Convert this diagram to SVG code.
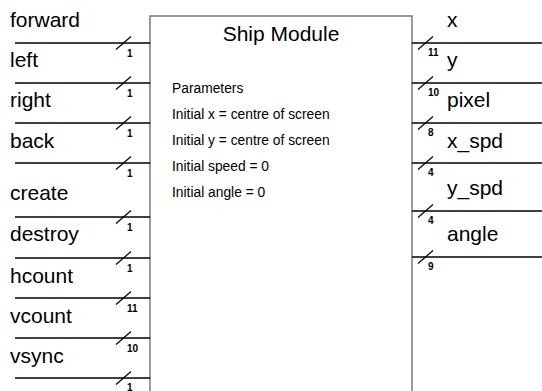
<svg xmlns="http://www.w3.org/2000/svg" width="542" height="391" viewBox="0 0 542 391">
<style>
  text { font-family: "Liberation Sans", Arial, sans-serif; fill: #000; }
  .lbl { font-size: 21px; }
  .title { font-size: 21px; text-anchor: middle; }
  .param { font-size: 13.8px; }
  .num { font-size: 10px; font-weight: bold; }
  .wire { stroke: #000; stroke-width: 1.5; fill: none; }
  .slash { stroke: #000; stroke-width: 1.2; fill: none; }
  .box { fill: #fff; stroke: #7a7a7a; stroke-width: 1.5; }
</style>
<defs>
  <path id="sl" class="slash" d="M-7.5,6.5 L7.5,-6.5"/>
</defs>
<rect width="542" height="391" fill="#fff"/>

<g id="ship-module">
  <rect class="box" x="150" y="16" width="262" height="400"/>
  <text class="title" x="281" y="41">Ship Module</text>
  <text class="param" x="172" y="93">Parameters</text>
  <text class="param" x="172" y="119">Initial x = centre of screen</text>
  <text class="param" x="172" y="145">Initial y = centre of screen</text>
  <text class="param" x="172" y="171">Initial speed = 0</text>
  <text class="param" x="172" y="197">Initial angle = 0</text>
</g>

<g id="connectors">
  <line class="wire" x1="15" y1="43" x2="150" y2="43"/>
  <line class="wire" x1="15" y1="83" x2="150" y2="83"/>
  <line class="wire" x1="15" y1="123" x2="150" y2="123"/>
  <line class="wire" x1="15" y1="163" x2="150" y2="163"/>
  <line class="wire" x1="15" y1="217" x2="150" y2="217"/>
  <line class="wire" x1="15" y1="258" x2="150" y2="258"/>
  <line class="wire" x1="15" y1="298" x2="150" y2="298"/>
  <line class="wire" x1="15" y1="338" x2="150" y2="338"/>
  <line class="wire" x1="15" y1="378" x2="150" y2="378"/>
  <line class="wire" x1="412" y1="43" x2="542" y2="43"/>
  <line class="wire" x1="412" y1="83" x2="542" y2="83"/>
  <line class="wire" x1="412" y1="123" x2="542" y2="123"/>
  <line class="wire" x1="412" y1="163" x2="542" y2="163"/>
  <line class="wire" x1="412" y1="211" x2="542" y2="211"/>
  <line class="wire" x1="412" y1="257" x2="542" y2="257"/>
</g>

<g id="in-forward"><text class="lbl" x="10" y="27">forward</text><use href="#sl" x="123.5" y="43"/><text class="num" x="127" y="57">1</text></g>
<g id="in-left"><text class="lbl" x="10" y="67">left</text><use href="#sl" x="123.5" y="83"/><text class="num" x="127" y="97">1</text></g>
<g id="in-right"><text class="lbl" x="10" y="107">right</text><use href="#sl" x="123.5" y="123"/><text class="num" x="127" y="137">1</text></g>
<g id="in-back"><text class="lbl" x="10" y="148">back</text><use href="#sl" x="123.5" y="163"/><text class="num" x="127" y="177">1</text></g>
<g id="in-create"><text class="lbl" x="10" y="200">create</text><use href="#sl" x="123.5" y="217"/><text class="num" x="127" y="231">1</text></g>
<g id="in-destroy"><text class="lbl" x="10" y="241">destroy</text><use href="#sl" x="123.5" y="258"/><text class="num" x="127" y="272">1</text></g>
<g id="in-hcount"><text class="lbl" x="10" y="283">hcount</text><use href="#sl" x="123.5" y="298"/><text class="num" x="127" y="312">11</text></g>
<g id="in-vcount"><text class="lbl" x="10" y="323">vcount</text><use href="#sl" x="123.5" y="338"/><text class="num" x="127" y="352">10</text></g>
<g id="in-vsync"><text class="lbl" x="10" y="363">vsync</text><use href="#sl" x="123.5" y="378"/><text class="num" x="127" y="391">1</text></g>

<g id="out-x"><text class="lbl" x="447" y="27">x</text><use href="#sl" x="425.5" y="43"/><text class="num" x="428" y="56">11</text></g>
<g id="out-y"><text class="lbl" x="447" y="67">y</text><use href="#sl" x="425.5" y="83"/><text class="num" x="428" y="96">10</text></g>
<g id="out-pixel"><text class="lbl" x="447" y="107">pixel</text><use href="#sl" x="425.5" y="123"/><text class="num" x="428" y="136">8</text></g>
<g id="out-x_spd"><text class="lbl" x="447" y="148">x_spd</text><use href="#sl" x="425.5" y="163"/><text class="num" x="428" y="176">4</text></g>
<g id="out-y_spd"><text class="lbl" x="447" y="195">y_spd</text><use href="#sl" x="425.5" y="211"/><text class="num" x="428" y="224">4</text></g>
<g id="out-angle"><text class="lbl" x="447" y="241">angle</text><use href="#sl" x="425.5" y="257"/><text class="num" x="428" y="270">9</text></g>
</svg>
